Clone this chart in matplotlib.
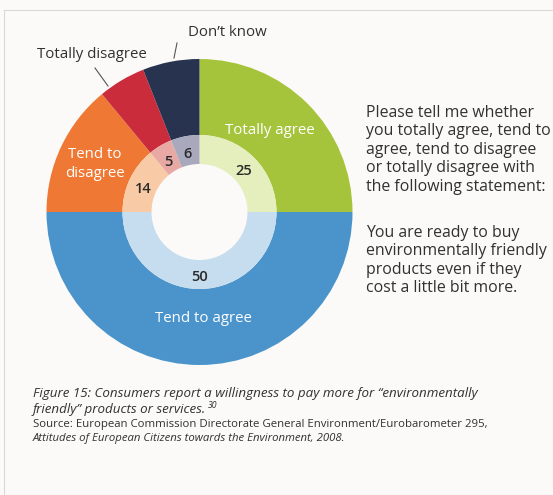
import matplotlib
matplotlib.use("Agg")
from matplotlib import pyplot as plt
import numpy as np

# data
categories = ["Totally agree", "Tend to agree", "Tend to disagree", "Totally disagree", "Don't know"]
values = [25, 50, 14, 5, 6]
outer_colors = ["#a6c43b", "#4a94cb", "#ef7934", "#cb2c3b", "#28334f"]
inner_colors = ["#e4efbd", "#c5ddef", "#f8cba6", "#e8a8a4", "#a9a9be"]

question = ("Please tell me whether\nyou totally agree, tend to\nagree, tend to disagree\n"
            "or totally disagree with\nthe following statement:")
statement = ("You are ready to buy\nenvironmentally friendly\nproducts even if they\n"
             "cost a little bit more.")
caption1 = "Figure 15: Consumers report a willingness to pay more for \u201cenvironmentally"
caption2 = "friendly\u201d products or services."
source1 = "Source: European Commission Directorate General Environment/Eurobarometer 295,"
source2 = "Attitudes of European Citizens towards the Environment, 2008."

plt.rcParams['font.family'] = ['Open Sans', 'DejaVu Sans']
W, H = 553, 495
txtcol = "#333030"

fig = plt.figure(figsize=(W / 100, H / 100), dpi=100, facecolor="#fbfaf8")

# frame lines top/left
fig.add_artist(plt.Line2D([4 / W, 4 / W], [0, 1 - 10 / H], color="#d9d9d9", lw=0.8))
fig.add_artist(plt.Line2D([4 / W, 1], [1 - 10 / H, 1 - 10 / H], color="#d9d9d9", lw=0.8))

cx, cy, R = 199.5, 212, 153
ax = fig.add_axes([(cx - R) / W, (H - cy - R) / H, 2 * R / W, 2 * R / H])
ax.axis("off")

r_mid = 77 / R
r_hole = 48 / R
ax.pie(values, radius=1, colors=outer_colors, startangle=90, counterclock=False,
       wedgeprops=dict(width=1 - r_mid, linewidth=0))
ax.pie(values, radius=r_mid, colors=inner_colors, startangle=90, counterclock=False,
       wedgeprops=dict(width=r_mid - r_hole, linewidth=0))
ax.set_xlim(-1, 1)
ax.set_ylim(-1, 1)

# numbers in the inner ring
start = 90.0
for v in values:
    ang = np.deg2rad(start - v * 3.6 / 2)
    start -= v * 3.6
    ax.text(0.405 * np.cos(ang), 0.405 * np.sin(ang) - 0.02, str(v), ha="center", va="center",
            fontsize=10.5, color="#2a2a2a", fontweight="semibold")


def px(x, y):
    return x / W, 1 - y / H


# labels in outer ring
fig.text(*px(270, 130), "Totally agree", color="white", fontsize=10.8, ha="center", va="center")
fig.text(*px(203, 318), "Tend to agree", color="white", fontsize=10.8, ha="center", va="center")
fig.text(*px(95, 164), "Tend to\ndisagree", color="white", fontsize=10.8, ha="center", va="center",
         linespacing=1.3)
fig.text(*px(92, 54), "Totally disagree", color=txtcol, fontsize=10.8, ha="center", va="center")
fig.text(*px(227, 33), "Don\u2019t know", color=txtcol, fontsize=10.8, ha="center", va="center")
fig.add_artist(plt.Line2D([95 / W, 108 / W], [1 - 68 / H, 1 - 86 / H], color="#555555", lw=0.8))
fig.add_artist(plt.Line2D([177 / W, 174 / W], [1 - 43 / H, 1 - 58 / H], color="#555555", lw=0.8))

# right text
fig.text(*px(366, 105), question, color=txtcol, fontsize=11.4, ha="left", va="top", linespacing=1.2)
fig.text(*px(366, 225), statement, color=txtcol, fontsize=11.4, ha="left", va="top", linespacing=1.2)

# caption
fig.text(*px(33, 394), caption1, color=txtcol, fontsize=9.6, style="italic", ha="left", va="center")
t2 = fig.text(*px(33, 409), caption2, color=txtcol, fontsize=9.6, style="italic", ha="left", va="center")
fig.canvas.draw()
bb = t2.get_window_extent()
fig.text((bb.x1 + 2) / W, 1 - 405 / H, "30", color=txtcol, fontsize=6.2, style="italic",
         ha="left", va="center")
fig.text(*px(33, 425), source1, color=txtcol, fontsize=8.2, ha="left", va="center")
fig.text(*px(33, 438), source2, color=txtcol, fontsize=8.2, style="italic", ha="left", va="center")

fig.savefig("out.png", dpi=100, facecolor=fig.get_facecolor())
